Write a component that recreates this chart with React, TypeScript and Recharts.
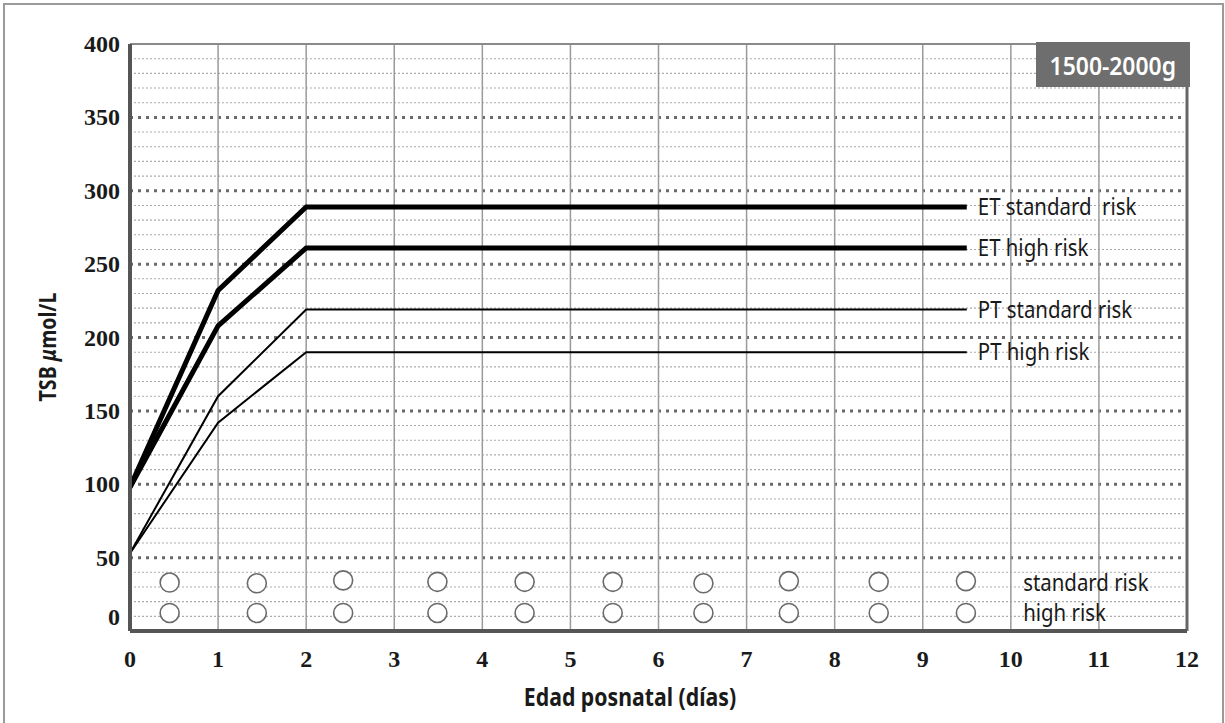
import React from 'react';
import { ComposedChart, Line, Scatter, XAxis, YAxis, ReferenceLine, LabelList } from 'recharts';

// ---- data ----
const dayTicks = [0, 1, 2, 3, 4, 5, 6, 7, 8, 9, 10, 11, 12];
const tsbTicks = [0, 50, 100, 150, 200, 250, 300, 350, 400];
const verticalGridDays = [1, 2, 3, 4, 5, 6, 7, 8, 9, 10, 11];
const majorGridValues = [50, 100, 150, 200, 250, 300, 350];
const minorGridValues = [10, 20, 30, 40, 60, 70, 80, 90, 110, 120, 130, 140, 160, 170, 180, 190, 210, 220, 230, 240, 260, 270, 280, 290, 310, 320, 330, 340, 360, 370, 380, 390];

const etStandard = [
  { x: 0, y: 98 },
  { x: 1, y: 232 },
  { x: 2, y: 289 },
  { x: 9.5, y: 289 },
];
const etHigh = [
  { x: 0, y: 98 },
  { x: 1, y: 208 },
  { x: 2, y: 261 },
  { x: 9.5, y: 261 },
];
const ptStandard = [
  { x: 0, y: 53 },
  { x: 1, y: 160 },
  { x: 2, y: 219 },
  { x: 9.5, y: 219 },
];
const ptHigh = [
  { x: 0, y: 53 },
  { x: 1, y: 142 },
  { x: 2, y: 190 },
  { x: 9.5, y: 190 },
];

const circleStandard = [
  { x: 0.45, y: 33 },
  { x: 1.44, y: 32.5 },
  { x: 2.42, y: 34.5 },
  { x: 3.49, y: 33.5 },
  { x: 4.48, y: 33.5 },
  { x: 5.48, y: 33.5 },
  { x: 6.51, y: 32.5 },
  { x: 7.48, y: 34 },
  { x: 8.5, y: 33.5 },
  { x: 9.49, y: 34 },
];
const circleHigh = [
  { x: 0.45, y: 12.3 },
  { x: 1.44, y: 12.3 },
  { x: 2.42, y: 12.3 },
  { x: 3.49, y: 12.3 },
  { x: 4.48, y: 12.3 },
  { x: 5.48, y: 12.3 },
  { x: 6.51, y: 12.3 },
  { x: 7.48, y: 12.3 },
  { x: 8.5, y: 12.3 },
  { x: 9.49, y: 12.3 },
];
const circleLabels = [
  { x: 10.14, y: 33, text: 'standard risk' },
  { x: 10.14, y: 12.3, text: 'high risk' },
];

const lineNames = {
  etStandard: 'ET standard\u00a0 risk',
  etHigh: 'ET high risk',
  ptStandard: 'PT standard risk',
  ptHigh: 'PT high risk',
};

const SANS = "'Noto Sans', 'Open Sans', sans-serif";
const SERIF = "'Liberation Serif', 'DejaVu Serif', serif";
const SQUEEZE = 0.85;

const NarrowText = ({ x, y, text }: { x: number; y: number; text: string }) => (
  <text
    transform={`translate(${x},${y}) scale(${SQUEEZE},1)`}
    fontFamily={SANS}
    fontSize={24}
    fill="#1a1a1a"
  >
    {text}
  </text>
);

const endLabel = (text: string, len: number) => (props: any) => {
  const { x, y, index } = props;
  if (index !== len - 1) return null;
  return <NarrowText x={x + 11} y={y + 8} text={text} />;
};

const YTick = (props: any) => {
  const { x, y, payload } = props;
  const shift = payload.value === 0 ? -14 : 0;
  return (
    <text x={x} y={y + shift} dy={8} textAnchor="end" fontFamily={SERIF} fontWeight="bold" fontSize={24} fill="#1a1a1a">
      {payload.value}
    </text>
  );
};

const XTick = (props: any) => {
  const { x, y, payload } = props;
  return (
    <text x={x} y={y} dy={16} textAnchor="middle" fontFamily={SERIF} fontWeight="bold" fontSize={24} fill="#1a1a1a">
      {payload.value}
    </text>
  );
};

const circleShape = (p: any) => (
  <circle cx={p.cx} cy={p.cy} r={9.5} fill="#ffffff" stroke="#6a6a6a" strokeWidth={1.6} />
);

const textShape = (p: any) => <NarrowText x={p.cx} y={p.cy + 8} text={p.payload.text} />;

export default function App() {
  return (
    <div style={{ position: 'absolute', left: 0, top: 0, width: 1225, height: 723, background: '#fff', overflow: 'hidden' }}>
      <div
        style={{
          position: 'absolute',
          left: 3,
          top: 3,
          width: 1221,
          height: 740,
          border: '2px solid #9a9a9a',
          boxSizing: 'border-box',
        }}
      />
      <div style={{ position: 'absolute', left: 0, top: 0 }}>
        <ComposedChart width={1225} height={723} margin={{ top: 44, right: 38, left: 70, bottom: 32 }}>
          <XAxis
            type="number"
            dataKey="x"
            domain={[0, 12]}
            ticks={dayTicks}
            interval={0}
            allowDataOverflow
            tickSize={0}
            tickMargin={20}
            tick={<XTick />}
            axisLine={{ stroke: '#555', strokeWidth: 4 }}
            height={60}
          />
          <YAxis
            type="number"
            dataKey="y"
            domain={[0, 400]}
            ticks={tsbTicks}
            interval={0}
            allowDataOverflow
            tickSize={0}
            tickMargin={10}
            tick={<YTick />}
            axisLine={{ stroke: '#555', strokeWidth: 4 }}
            width={60}
          />
          {minorGridValues.map((v) => (
            <ReferenceLine key={'mi' + v} y={v} stroke="#ababab" strokeWidth={1.1} strokeDasharray="2 2" />
          ))}
          {majorGridValues.map((v) => (
            <ReferenceLine key={'ma' + v} y={v} stroke="#6a6a6a" strokeWidth={3} strokeDasharray="3 5" />
          ))}
          {verticalGridDays.map((d) => (
            <ReferenceLine key={'v' + d} x={d} stroke="#9a9a9a" strokeWidth={1.5} />
          ))}
          <ReferenceLine y={400} stroke="#8a8a8a" strokeWidth={2} />
          <ReferenceLine x={12} stroke="#666" strokeWidth={3} />

          <Line data={ptHigh} dataKey="y" type="linear" stroke="#000" strokeWidth={2} dot={false} isAnimationActive={false}>
            <LabelList dataKey="y" content={endLabel(lineNames.ptHigh, ptHigh.length)} />
          </Line>
          <Line data={ptStandard} dataKey="y" type="linear" stroke="#000" strokeWidth={2} dot={false} isAnimationActive={false}>
            <LabelList dataKey="y" content={endLabel(lineNames.ptStandard, ptStandard.length)} />
          </Line>
          <Line data={etHigh} dataKey="y" type="linear" stroke="#000" strokeWidth={5} dot={false} isAnimationActive={false}>
            <LabelList dataKey="y" content={endLabel(lineNames.etHigh, etHigh.length)} />
          </Line>
          <Line data={etStandard} dataKey="y" type="linear" stroke="#000" strokeWidth={5} dot={false} isAnimationActive={false}>
            <LabelList dataKey="y" content={endLabel(lineNames.etStandard, etStandard.length)} />
          </Line>

          <Scatter data={circleStandard} dataKey="y" shape={circleShape} isAnimationActive={false} />
          <Scatter data={circleHigh} dataKey="y" shape={circleShape} isAnimationActive={false} />
          <Scatter data={circleLabels} dataKey="y" shape={textShape} isAnimationActive={false} />
        </ComposedChart>
      </div>
      <div
        style={{
          position: 'absolute',
          left: 1036,
          top: 42,
          width: 154,
          height: 45,
          background: '#6e6e6e',
          color: '#fff',
          fontFamily: SANS,
          fontWeight: 600,
          fontSize: 26,
          display: 'flex',
          alignItems: 'center',
          justifyContent: 'center',
        }}
      >
        <span style={{ display: 'inline-block', transform: 'scaleX(0.88)', whiteSpace: 'nowrap' }}>1500-2000g</span>
      </div>
      <div
        style={{
          position: 'absolute',
          left: 430,
          top: 681,
          width: 400,
          textAlign: 'center',
          fontFamily: SANS,
          fontWeight: 'bold',
          fontSize: 25,
          color: '#1a1a1a',
          lineHeight: '30px',
          transform: 'scaleX(0.85)',
          whiteSpace: 'nowrap',
        }}
      >
        Edad posnatal (días)
      </div>
      <div
        style={{
          position: 'absolute',
          left: 47,
          top: 347,
          transform: 'translate(-50%, -50%) rotate(-90deg) scaleX(0.85)',
          whiteSpace: 'nowrap',
          fontFamily: SANS,
          fontWeight: 'bold',
          fontSize: 23,
          color: '#1a1a1a',
        }}
      >
        TSB <span style={{ fontStyle: 'italic' }}>μ</span>mol/L
      </div>
    </div>
  );
}
